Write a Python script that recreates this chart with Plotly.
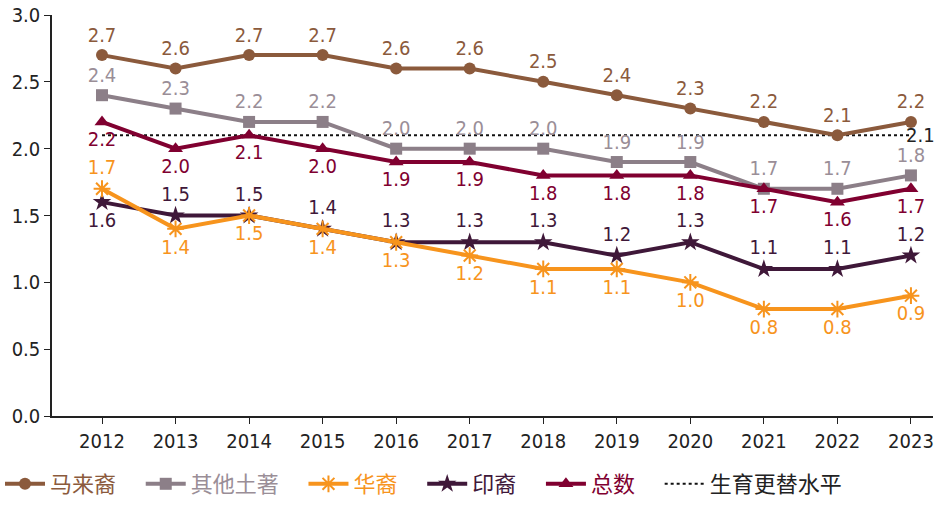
import plotly.graph_objects as go

years = [2012, 2013, 2014, 2015, 2016, 2017, 2018, 2019, 2020, 2021, 2022, 2023]
malay = [2.7, 2.6, 2.7, 2.7, 2.6, 2.6, 2.5, 2.4, 2.3, 2.2, 2.1, 2.2]
other_bumi = [2.4, 2.3, 2.2, 2.2, 2.0, 2.0, 2.0, 1.9, 1.9, 1.7, 1.7, 1.8]
chinese = [1.7, 1.4, 1.5, 1.4, 1.3, 1.2, 1.1, 1.1, 1.0, 0.8, 0.8, 0.9]
indian = [1.6, 1.5, 1.5, 1.4, 1.3, 1.3, 1.3, 1.2, 1.3, 1.1, 1.1, 1.2]
total = [2.2, 2.0, 2.1, 2.0, 1.9, 1.9, 1.8, 1.8, 1.8, 1.7, 1.6, 1.7]
replacement = 2.1

names = ["马来裔", "其他土著", "华裔", "印裔", "总数", "生育更替水平"]
colors = ["#8B5A3C", "#8C7F88", "#F7941D", "#3F1839", "#800030", "#111111"]
label_colors = ["#8B5A3C", "#9A8E97", "#F7941D", "#3F1839", "#800030", "#222222"]

FONT = "DejaVu Sans Condensed, Noto Sans CJK SC, sans-serif"
LFONT = "Noto Sans CJK SC, DejaVu Sans Condensed, sans-serif"
PAD = "&nbsp;" * 4

def fmt(v):
    return f"{v:.1f}"

def legend_name(i):
    return f'<span style="color:{label_colors[i]}">{names[i]}</span>{PAD}'

fig = go.Figure()

def add_series(i, ys, symbol, msize, positions, rank, mline=None):
    marker = dict(symbol=symbol, size=msize, color=colors[i])
    if mline:
        marker["line"] = mline
    fig.add_trace(go.Scatter(
        x=years, y=ys, mode="lines+markers+text",
        name=legend_name(i),
        line=dict(color=colors[i], width=4),
        marker=marker,
        text=[fmt(v) for v in ys],
        textposition=positions,
        textfont=dict(family=FONT, size=20, color=label_colors[i]),
        cliponaxis=False, legendrank=rank,
    ))

# replacement level dotted line
fig.add_trace(go.Scatter(
    x=years, y=[replacement] * len(years), mode="lines",
    name=legend_name(5),
    line=dict(color=colors[5], width=2, dash="dot"),
    legendrank=6, hoverinfo="skip",
))
fig.add_annotation(
    x=1, xref="paper", y=replacement, yref="y", text=fmt(replacement),
    xanchor="right", yanchor="middle", xshift=4, showarrow=False,
    font=dict(family=FONT, size=20, color="#222222"),
)

add_series(0, malay, "circle", 12, ["top center"] * 12, 1)
add_series(1, other_bumi, "square", 12, ["top center"] * 12, 2)
add_series(3, indian, "star", 14, ["bottom center"] + ["top center"] * 11, 4)
add_series(2, chinese, "asterisk-open", 14, ["top center"] + ["bottom center"] * 11, 3,
           mline=dict(color=colors[2], width=2))
add_series(4, total, "triangle-up", 13, ["bottom center"] * 12, 5)

fig.update_layout(
    width=938, height=505,
    margin=dict(l=52, r=5, t=15, b=89),
    paper_bgcolor="white", plot_bgcolor="white",
    font=dict(family=FONT, size=20, color="#222222"),
    showlegend=True,
    legend=dict(orientation="h", x=0.0, xref="container", xanchor="left",
                y=-0.01, yref="container", yanchor="bottom",
                font=dict(family=LFONT, size=22), traceorder="normal",
                itemwidth=40, tracegroupgap=0),
    xaxis=dict(range=[2011.32, 2023.3], tickmode="array", tickvals=years,
               ticktext=[str(y) for y in years], showgrid=False, zeroline=False,
               showline=True, linecolor="#222222", linewidth=1.5,
               ticks="outside", ticklen=6, tickcolor="#222222", automargin=False,
               tickfont=dict(family=FONT, size=20, color="#222222")),
    yaxis=dict(range=[0, 3.0], tickmode="array", tickvals=[0, 0.5, 1.0, 1.5, 2.0, 2.5, 3.0],
               ticktext=["0.0", "0.5", "1.0", "1.5", "2.0", "2.5", "3.0"],
               showgrid=False, zeroline=False, showline=True, linecolor="#222222",
               linewidth=1.5, ticks="outside", ticklen=6, tickcolor="#222222",
               automargin=False,
               tickfont=dict(family=FONT, size=20, color="#222222")),
)

fig.write_html("out.html", config={"displayModeBar": False},
               post_script="document.body.style.margin='0';")
